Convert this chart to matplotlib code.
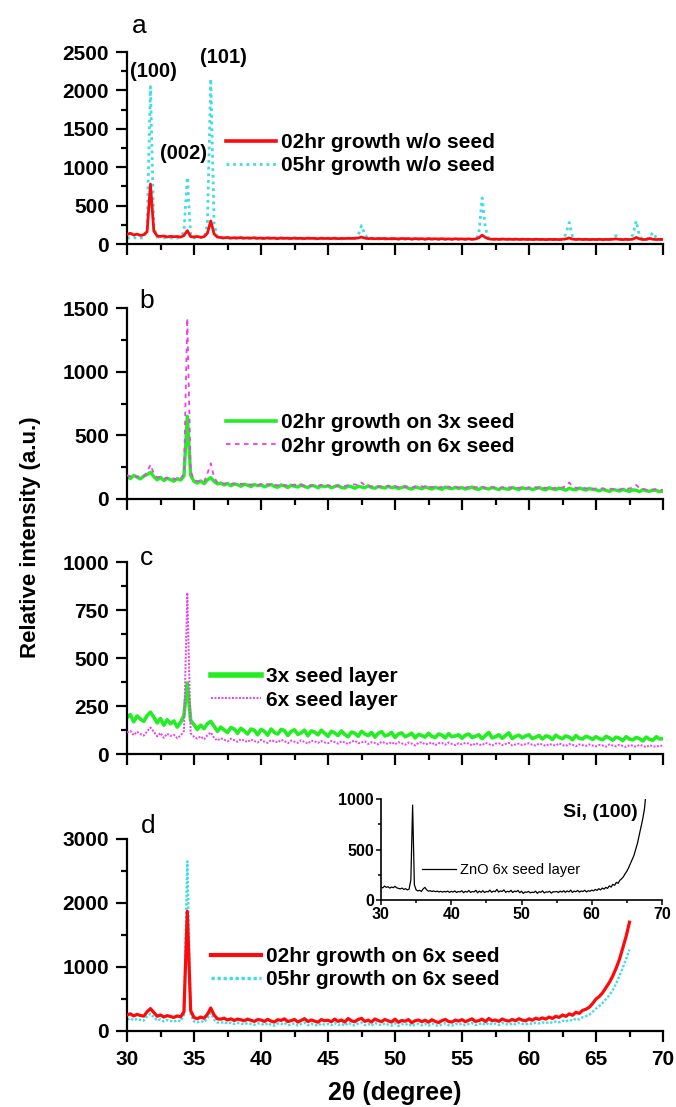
import numpy as np
import matplotlib
matplotlib.use("Agg")
import matplotlib.pyplot as plt
from matplotlib.ticker import MultipleLocator

plt.rcParams['font.family'] = ['Liberation Sans', 'DejaVu Sans']

# 2-theta sampling grid (degrees), 0.25 deg steps from 30 to 70
two_theta = np.round(30 + 0.25 * np.arange(161), 2)

# ---------------- panel a ----------------
a_02hr_no_seed = [
    125, 140, 118, 128, 112, 120, 160, 780, 170, 105, 98, 104, 92, 100, 94, 98, 90, 110, 175, 96,
    92, 98, 88, 95, 140, 300, 130, 90, 84, 80, 86, 76, 82, 78, 84, 75, 80, 76, 82, 74,
    78, 72, 80, 74, 77, 70, 79, 73, 76, 71, 78, 72, 75, 70, 77, 73, 74, 69, 76, 71,
    74, 70, 76, 69, 73, 71, 75, 72, 74, 78, 90, 76, 70, 73, 68, 72, 70, 72, 67, 71,
    70, 66, 72, 68, 71, 65, 70, 67, 69, 64, 70, 66, 68, 65, 69, 64, 67, 63, 68, 65,
    66, 63, 67, 62, 65, 80, 115, 85, 66, 62, 64, 60, 65, 61, 63, 60, 64, 59, 62, 60,
    61, 58, 62, 59, 60, 57, 61, 58, 60, 57, 62, 66, 78, 64, 59, 62, 58, 61, 57, 60,
    58, 61, 57, 60, 58, 62, 66, 60, 57, 61, 58, 63, 85, 66, 58, 60, 72, 62, 58, 61,
    59]
a_05hr_no_seed = [
    82, 75, 86, 72, 80, 76, 210, 2050, 220, 90, 84, 80, 86, 78, 82, 76, 95, 160, 870, 110,
    80, 76, 84, 78, 250, 2150, 260, 88, 78, 74, 80, 72, 77, 70, 76, 72, 74, 70, 75, 68,
    72, 68, 74, 66, 71, 67, 73, 65, 70, 66, 72, 67, 69, 64, 71, 66, 68, 63, 70, 66,
    68, 65, 70, 64, 67, 66, 70, 68, 75, 110, 240, 120, 72, 66, 68, 64, 67, 62, 66, 63,
    65, 61, 66, 62, 64, 60, 65, 61, 63, 59, 64, 60, 62, 58, 63, 59, 61, 57, 62, 59,
    60, 58, 62, 57, 61, 120, 600, 200, 70, 60, 58, 61, 57, 60, 56, 59, 57, 60, 56, 58,
    57, 60, 55, 58, 56, 59, 55, 58, 56, 60, 60, 130, 280, 90, 62, 57, 60, 55, 58, 56,
    56, 59, 55, 58, 62, 75, 110, 70, 58, 55, 59, 120, 300, 100, 60, 57, 90, 150, 80, 58,
    57]
a_peak_labels = ['(100)', '(002)', '(101)']
a_peak_label_x = [32.0, 34.18, 37.16]
a_peak_label_y = [2252, 1172, 2422]

# ---------------- panel b ----------------
b_02hr_3x_seed = [
    178, 160, 185, 172, 158, 180, 192, 210, 176, 150, 170, 145, 162, 152, 140, 160, 148, 180, 650, 185,
    138, 125, 142, 120, 150, 168, 138, 118, 126, 110, 122, 104, 118, 112, 100, 116, 108, 98, 114, 104,
    112, 96, 106, 114, 98, 92, 110, 104, 90, 108, 100, 94, 112, 98, 90, 106, 102, 88, 104, 96,
    104, 88, 98, 106, 90, 86, 102, 96, 84, 100, 94, 88, 104, 90, 84, 98, 92, 86, 100, 88,
    96, 82, 90, 98, 84, 78, 94, 88, 80, 96, 86, 78, 92, 84, 76, 94, 86, 80, 92, 82,
    90, 78, 86, 94, 80, 76, 90, 84, 78, 92, 82, 74, 88, 80, 76, 90, 82, 74, 88, 80,
    86, 74, 82, 90, 78, 72, 88, 80, 74, 86, 78, 70, 84, 76, 72, 86, 78, 70, 82, 76,
    72, 64, 76, 68, 60, 74, 70, 62, 76, 66, 60, 72, 68, 58, 74, 64, 60, 70, 66, 58,
    62]
b_02hr_6x_seed = [
    185, 178, 190, 172, 184, 176, 215, 270, 200, 170, 175, 160, 168, 155, 162, 150, 160, 200, 1420, 220,
    150, 140, 145, 135, 200, 280, 170, 130, 125, 120, 126, 118, 122, 115, 120, 114, 118, 112, 117, 110,
    115, 108, 118, 106, 113, 107, 116, 104, 111, 106, 114, 103, 110, 105, 112, 102, 108, 104, 111, 101,
    107, 102, 109, 99, 105, 101, 108, 110, 115, 108, 130, 105, 103, 98, 105, 96, 102, 98, 104, 95,
    101, 94, 99, 92, 102, 91, 98, 94, 100, 90, 97, 93, 99, 89, 96, 92, 98, 88, 95, 91,
    96, 90, 95, 88, 93, 91, 97, 87, 94, 89, 95, 86, 92, 88, 94, 85, 91, 87, 93, 84,
    91, 86, 93, 83, 90, 87, 92, 82, 89, 85, 91, 100, 130, 95, 88, 84, 90, 83, 89, 80,
    83, 78, 85, 76, 82, 79, 84, 75, 81, 78, 83, 90, 110, 85, 79, 73, 77, 74, 78, 71,
    72]

# ---------------- panel c ----------------
c_3x_seed_layer = [
    190, 205, 168, 198, 182, 170, 200, 218, 192, 162, 185, 150, 178, 158, 172, 140, 165, 200, 370, 175,
    152, 128, 150, 132, 158, 170, 145, 118, 140, 125, 112, 138, 130, 108, 134, 120, 104, 130, 124, 100,
    128, 118, 98, 130, 112, 104, 128, 122, 96, 118, 126, 102, 110, 124, 95, 120, 114, 100, 124, 108,
    92, 118, 110, 96, 120, 102, 90, 114, 108, 92, 118, 104, 96, 112, 88, 108, 116, 94, 100, 112,
    86, 104, 110, 90, 98, 108, 84, 102, 96, 88, 108, 92, 86, 104, 98, 84, 106, 90, 94, 100,
    82, 98, 104, 86, 92, 100, 80, 96, 112, 84, 90, 100, 82, 96, 110, 80, 92, 98, 84, 94,
    100, 80, 88, 96, 78, 94, 90, 76, 98, 86, 80, 94, 88, 74, 96, 82, 78, 92, 86, 76,
    90, 80, 74, 92, 84, 72, 88, 82, 70, 90, 78, 74, 86, 80, 68, 88, 76, 72, 90, 78,
    80]
c_6x_seed_layer = [
    112, 120, 98, 116, 104, 96, 118, 138, 116, 92, 110, 84, 106, 94, 100, 82, 96, 120, 840, 108,
    90, 80, 92, 76, 98, 112, 84, 70, 82, 74, 66, 80, 72, 64, 78, 70, 62, 76, 68, 60,
    74, 64, 58, 72, 66, 60, 74, 68, 56, 70, 64, 58, 72, 62, 54, 70, 66, 58, 68, 60,
    56, 68, 62, 54, 66, 60, 52, 64, 70, 56, 60, 66, 52, 62, 58, 50, 64, 58, 52, 62,
    50, 62, 56, 48, 60, 54, 44, 58, 62, 50, 54, 60, 46, 56, 58, 48, 60, 52, 46, 56,
    50, 58, 54, 44, 56, 50, 46, 58, 52, 44, 54, 56, 46, 52, 58, 44, 50, 54, 46, 52,
    56, 48, 44, 54, 50, 42, 52, 48, 44, 56, 46, 42, 52, 48, 40, 50, 46, 42, 50, 44,
    40, 48, 44, 38, 50, 44, 40, 48, 42, 36, 46, 44, 38, 48, 42, 36, 46, 40, 38, 44,
    42]

# ---------------- panel d (data end at 67.5 deg) ----------------
d_02hr_6x_seed = [
    250, 268, 236, 260, 242, 232, 300, 350, 290, 230, 250, 218, 240, 226, 212, 236, 220, 300, 1870, 320,
    210, 192, 218, 200, 260, 360, 250, 190, 185, 200, 172, 190, 165, 186, 175, 160, 185, 168, 150, 178,
    172, 150, 182, 155, 140, 176, 165, 190, 148, 162, 180, 140, 166, 192, 148, 172, 155, 138, 178, 160,
    168, 145, 186, 150, 172, 140, 195, 158, 146, 180, 198, 150, 170, 140, 188, 162, 148, 180, 158, 140,
    185, 136, 165, 152, 178, 130, 160, 172, 145, 168, 138, 176, 150, 132, 162, 180, 148, 140, 170, 155,
    178, 145, 168, 190, 150, 162, 185, 148, 195, 160, 172, 150, 188, 165, 155, 180, 160, 192, 170, 158,
    190, 168, 200, 182, 205, 186, 218, 196, 230, 212, 250, 228, 268, 246, 292, 275, 322, 340, 372, 430,
    500, 540, 600, 680, 760, 860, 980, 1120, 1300, 1480, 1700]
d_05hr_6x_seed = [
    180, 195, 168, 190, 172, 162, 230, 270, 215, 165, 180, 150, 172, 158, 145, 166, 152, 250, 2650, 260,
    150, 136, 155, 138, 200, 280, 180, 132, 128, 140, 115, 130, 110, 126, 118, 104, 124, 110, 96, 118,
    115, 92, 124, 96, 84, 118, 106, 128, 90, 104, 120, 86, 108, 130, 90, 114, 98, 82, 118, 100,
    110, 90, 124, 92, 112, 84, 130, 100, 88, 118, 132, 92, 112, 84, 126, 104, 90, 120, 100, 84,
    122, 80, 106, 96, 116, 76, 102, 114, 88, 110, 82, 118, 94, 78, 104, 120, 90, 84, 112, 98,
    116, 90, 110, 126, 94, 106, 124, 92, 130, 102, 116, 94, 126, 108, 98, 120, 104, 128, 112, 102,
    122, 110, 130, 118, 134, 122, 142, 128, 150, 136, 162, 148, 176, 160, 195, 180, 215, 232, 255, 300,
    350, 390, 440, 500, 560, 640, 740, 860, 990, 1130, 1270]

# inset: ZnO 6x seed layer (data end at 67.75 deg)
inset_6x_seed = [
    130, 120, 138, 125, 132, 118, 128, 122, 135, 120, 115, 110, 118, 105, 112, 100, 108, 200, 940, 150,
    100, 90, 96, 85, 110, 125, 100, 88, 92, 84, 90, 82, 88, 80, 86, 78, 85, 80, 88, 76,
    86, 78, 90, 74, 84, 80, 92, 72, 86, 78, 94, 75, 84, 80, 96, 72, 88, 76, 92, 74,
    85, 80, 98, 76, 88, 82, 105, 78, 90, 84, 100, 76, 86, 80, 96, 74, 88, 82, 95, 72,
    88, 65, 80, 76, 85, 70, 78, 74, 88, 66, 82, 76, 90, 70, 80, 78, 86, 68, 82, 80,
    85, 74, 88, 78, 92, 76, 90, 80, 98, 75, 88, 82, 95, 78, 90, 84, 96, 80, 92, 86,
    98, 90, 105, 95, 112, 100, 118, 108, 125, 115, 140, 128, 155, 145, 175, 165, 195, 210, 230, 260,
    285, 320, 360, 400, 440, 500, 560, 640, 720, 800, 900, 1080]

RED = '#ff0a0a'
CYAN = '#3fdde6'
GREEN = '#22ee22'
MAGENTA = '#ee3fee'

fig = plt.figure(figsize=(6.76, 11.07), dpi=100)

L, W = 127 / 676, 536 / 676
tops = [52, 308, 562, 839]
bottoms = [244, 499, 754, 1031]

axes = []
for t, b in zip(tops, bottoms):
    ax = fig.add_axes([L, 1 - b / 1107, W, (b - t) / 1107])
    axes.append(ax)


def style(ax, ymax, ymaj, ymin, show_x):
    ax.set_xlim(30, 70)
    ax.set_ylim(0, ymax)
    for s in ['top', 'right']:
        ax.spines[s].set_visible(False)
    for s in ['left', 'bottom']:
        ax.spines[s].set_linewidth(1.6)
    ax.xaxis.set_major_locator(MultipleLocator(5))
    ax.xaxis.set_minor_locator(MultipleLocator(2.5))
    ax.yaxis.set_major_locator(MultipleLocator(ymaj))
    ax.yaxis.set_minor_locator(MultipleLocator(ymin))
    ax.tick_params(which='major', direction='out', length=8, width=1.6,
                   labelsize=15, pad=5)
    ax.tick_params(which='minor', direction='out', length=4.5, width=1.6)
    ax.tick_params(axis='x', which='major', pad=6)
    for lab in ax.get_yticklabels() + ax.get_xticklabels():
        lab.set_fontweight('bold')
    if not show_x:
        ax.tick_params(axis='x', labelbottom=False)


def add_legend(ax, handles, labels, x, y, lw_handles):
    leg = ax.legend(handles, labels, loc='center left', bbox_to_anchor=(x, y),
                    frameon=False, prop={'weight': 'bold', 'size': 15},
                    handlelength=2.4, handletextpad=0.25, labelspacing=0.2,
                    borderpad=0, borderaxespad=0)
    for h, lw in zip(leg.legend_handles, lw_handles):
        h.set_linewidth(lw)
    return leg


letter_kw = dict(fontsize=19, ha='center', va='center')

# panel a
ax = axes[0]
ax.plot(two_theta, a_05hr_no_seed, color=CYAN, lw=2.0, linestyle=(0, (1, 1.4)),
        label='05hr growth w/o seed', zorder=2)
ax.plot(two_theta, a_02hr_no_seed, color=RED, lw=2.0, label='02hr growth w/o seed', zorder=3)
h, l = ax.get_legend_handles_labels()
add_legend(ax, h[::-1], l[::-1], 0.185, 0.469, [2.6, 2.0])
for txt, px, py in zip(a_peak_labels, a_peak_label_x, a_peak_label_y):
    ax.text(px, py, txt, ha='center', va='center', fontsize=14.5, fontweight='bold')
style(ax, 2500, 500, 250, False)
ax.text(0.022, 1.135, 'a', transform=ax.transAxes, **letter_kw)

# panel b
ax = axes[1]
ax.plot(two_theta, b_02hr_3x_seed, color=GREEN, lw=2.4, label='02hr growth on 3x seed', zorder=2)
ax.plot(two_theta, b_02hr_6x_seed, color=MAGENTA, lw=1.3, linestyle=(0, (2.5, 2.5)),
        label='02hr growth on 6x seed', zorder=3)
h, l = ax.get_legend_handles_labels()
add_legend(ax, h, l, 0.185, 0.338, [2.6, 1.3])
style(ax, 1500, 500, 250, False)
ax.text(0.037, 1.037, 'b', transform=ax.transAxes, **letter_kw)

# panel c
ax = axes[2]
ax.plot(two_theta, c_3x_seed_layer, color=GREEN, lw=2.6, label='3x seed layer', zorder=2)
ax.plot(two_theta, c_6x_seed_layer, color=MAGENTA, lw=1.4, linestyle=(0, (1, 0.8)),
        label='6x seed layer', zorder=3)
h, l = ax.get_legend_handles_labels()
add_legend(ax, h, l, 0.157, 0.341, [4.0, 1.4])
style(ax, 1000, 250, 125, False)
ax.text(0.037, 1.02, 'c', transform=ax.transAxes, **letter_kw)

# panel d
ax = axes[3]
ax.plot(two_theta[:len(d_05hr_6x_seed)], d_05hr_6x_seed, color=CYAN, lw=1.7,
        linestyle=(0, (1, 0.8)), label='05hr growth on 6x seed', zorder=2)
ax.plot(two_theta[:len(d_02hr_6x_seed)], d_02hr_6x_seed, color=RED, lw=2.3,
        label='02hr growth on 6x seed', zorder=3)
h, l = ax.get_legend_handles_labels()
add_legend(ax, h[::-1], l[::-1], 0.157, 0.326, [3.0, 2.4])
style(ax, 3000, 1000, 500, True)
ax.set_xlabel('2θ (degree)', fontsize=18, fontweight='bold', labelpad=8)
ax.text(0.04, 1.07, 'd', transform=ax.transAxes, **letter_kw)

fig.text(31 / 676, 1 - 537 / 1107, 'Relative intensity (a.u.)', rotation=90,
         ha='center', va='center', fontsize=16, fontweight='bold')

# inset
ins = fig.add_axes([381 / 676, 1 - 900 / 1107, 281 / 676, 101 / 1107])
ins.plot(two_theta[:len(inset_6x_seed)], inset_6x_seed, color='black', lw=0.9,
         label='ZnO 6x seed layer')
ins.set_xlim(30, 70)
ins.set_ylim(0, 1000)
for s in ['top', 'right']:
    ins.spines[s].set_visible(False)
for s in ['left', 'bottom']:
    ins.spines[s].set_linewidth(1.2)
ins.xaxis.set_major_locator(MultipleLocator(10))
ins.xaxis.set_minor_locator(MultipleLocator(5))
ins.yaxis.set_major_locator(MultipleLocator(500))
ins.yaxis.set_minor_locator(MultipleLocator(250))
ins.tick_params(which='major', direction='out', length=3.5, width=1.1, labelsize=11.5, pad=1.5)
ins.tick_params(which='minor', direction='out', length=2, width=1.1)
for lab in ins.get_xticklabels() + ins.get_yticklabels():
    lab.set_fontweight('bold')
ins.legend(loc='center left', bbox_to_anchor=(0.146, 0.297), frameon=False,
           fontsize=10.5, handlelength=2.3, handletextpad=0.3, borderpad=0,
           borderaxespad=0)
ins.text(66.58, 871, 'Si, (100)', ha='right', va='center', fontsize=14, fontweight='bold')

fig.savefig('out.png', dpi=100)
